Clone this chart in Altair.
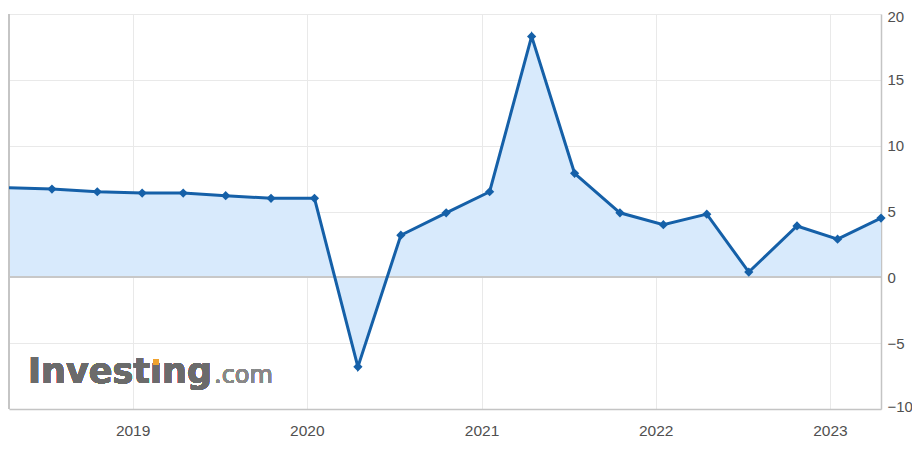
import altair as alt
import pandas as pd

# Release dates and GDP YoY values (%)
dates = ["2018-04-17", "2018-07-16", "2018-10-19", "2019-01-21", "2019-04-17",
         "2019-07-15", "2019-10-18", "2020-01-17", "2020-04-17", "2020-07-16",
         "2020-10-19", "2021-01-18", "2021-04-16", "2021-07-15", "2021-10-18",
         "2022-01-17", "2022-04-18", "2022-07-15", "2022-10-24", "2023-01-17",
         "2023-04-18"]
values = [6.8, 6.7, 6.5, 6.4, 6.4, 6.2, 6.0, 6.0, -6.8, 3.2,
          4.9, 6.5, 18.3, 7.9, 4.9, 4.0, 4.8, 0.4, 3.9, 2.9, 4.5]
year_ticks = [2019, 2020, 2021, 2022, 2023]
y_ticks = [-10, -5, 0, 5, 10, 15, 20]

df = pd.DataFrame({"date": dates, "value": values})
df_markers = df.iloc[1:]

W, H = 872, 395
LINE = "#1560a8"
FILL = "#d8eafc"
FONT = "Liberation Sans"

x_enc = alt.X("date:T", title=None,
              scale=alt.Scale(nice=False, padding=0),
              axis=alt.Axis(values=[alt.DateTime(year=y, month=1, date=1) for y in year_ticks],
                            format="%Y", ticks=False, grid=True, gridColor="#e9e9e9",
                            domainColor="#c4c4c4", domainWidth=1.5,
                            labelFontSize=15.5, labelColor="#505050", labelFont=FONT,
                            labelPadding=14))
y_enc = alt.Y("value:Q", title=None,
              scale=alt.Scale(domain=[-10, 20], nice=False, zero=False),
              axis=alt.Axis(orient="right", values=y_ticks, ticks=False, grid=True,
                            gridColor="#e9e9e9", domainColor="#c4c4c4", domainWidth=1.5,
                            labelFontSize=15, labelColor="#505050", labelFont=FONT,
                            labelPadding=6, labelFlush=True, labelFlushOffset=5))

area = alt.Chart(df).mark_area(color=FILL, opacity=1, clip=True).encode(
    x=x_enc, y=y_enc, y2=alt.datum(0))

zero = alt.Chart(df).mark_rule(color="#c8c8c8", strokeWidth=1.5).encode(
    y=alt.datum(0))

left_border = alt.Chart(df).mark_rule(color="#c4c4c4", strokeWidth=1.5).encode(
    x=alt.value(0), y=alt.value(0), y2=alt.value(H))

wm1 = alt.Chart(df).mark_text(text="Investıng", font="DejaVu Sans", fontWeight="bold",
                               fontSize=35, color="#6b6b6b", align="left",
                               baseline="alphabetic").encode(
    x=alt.value(19), y=alt.value(369))
wm2 = alt.Chart(df).mark_text(text=".com", font="DejaVu Sans", fontSize=24,
                               color="#888888", align="left",
                               baseline="alphabetic").encode(
    x=alt.value(205), y=alt.value(369))
wm_dot = alt.Chart(df).mark_point(shape="square", filled=True, color="#f0a22e",
                                  size=36, opacity=1).encode(
    x=alt.value(147), y=alt.value(348))

line = alt.Chart(df).mark_line(color=LINE, strokeWidth=3, clip=True).encode(
    x="date:T", y="value:Q")
points = alt.Chart(df_markers).mark_point(shape="diamond", filled=True, color=LINE,
                                          size=85, opacity=1).encode(
    x="date:T", y="value:Q")

chart = alt.layer(wm1, wm2, wm_dot, area, zero, left_border, line, points).properties(
    width=W, height=H,
    padding={"left": 1, "top": 6, "right": 31, "bottom": 32},
    autosize=alt.AutoSizeParams(type="none"),
    background="white",
).configure_view(stroke=None)

chart.save("out.html", embed_options={"renderer": "svg", "actions": False})
